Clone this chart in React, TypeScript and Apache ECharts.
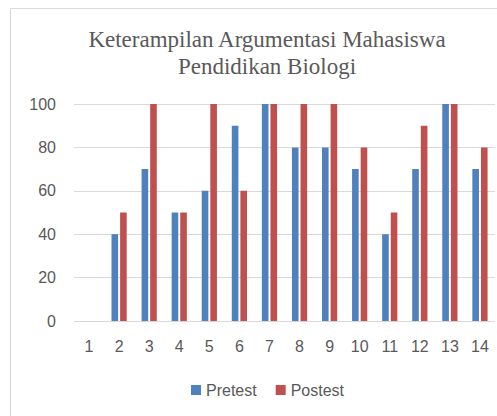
import React, { useEffect, useRef } from "react";
import * as echarts from "echarts";

const categories = ["1", "2", "3", "4", "5", "6", "7", "8", "9", "10", "11", "12", "13", "14"];
const pretest = [0, 40, 70, 50, 60, 90, 100, 80, 80, 70, 40, 70, 100, 70];
const postest = [0, 50, 100, 50, 100, 60, 100, 100, 100, 80, 50, 90, 100, 80];
const titleLines = ["Keterampilan Argumentasi Mahasiswa", "Pendidikan Biologi"];

export default function App() {
  const ref = useRef<HTMLDivElement>(null);
  useEffect(() => {
    document.body.style.margin = "0";
    const chart = echarts.init(ref.current!, null, { renderer: "svg" });
    const font = "'Liberation Sans', Arial, sans-serif";
    chart.setOption({
      animation: false,
      backgroundColor: "#ffffff",
      graphic: [
        {
          type: "rect",
          shape: { x: 10.5, y: 8.5, width: 600, height: 460 },
          style: { fill: "none", stroke: "#d9d9d9", lineWidth: 1 },
          silent: true,
        },
      ],
      title: {
        text: titleLines.join("\n"),
        left: 262,
        top: 21,
        textAlign: "center",
        textStyle: {
          fontFamily: "'Liberation Serif', 'Times New Roman', serif",
          fontSize: 23,
          fontWeight: "normal",
          color: "#595959",
          lineHeight: 27,
        },
      },
      legend: {
        data: ["Pretest", "Postest"],
        left: 186,
        top: 377,
        itemWidth: 10,
        itemHeight: 10,
        itemGap: 19,
        icon: "rect",
        textStyle: { fontFamily: font, fontSize: 16, color: "#595959" },
      },
      grid: { left: 74, right: 2, top: 104, bottom: 95, containLabel: false },
      xAxis: {
        type: "category",
        data: categories,
        axisLine: { show: false },
        axisTick: { show: false },
        axisLabel: { fontFamily: font, fontSize: 16, color: "#595959", margin: 17 },
      },
      yAxis: {
        type: "value",
        min: 0,
        max: 100,
        interval: 20,
        axisLine: { show: false },
        axisTick: { show: false },
        splitLine: { lineStyle: { color: "#d9d9d9", width: 1 } },
        axisLabel: { fontFamily: font, fontSize: 16, color: "#595959", margin: 18 },
      },
      series: [
        {
          name: "Pretest",
          type: "bar",
          data: pretest,
          barWidth: "22%",
          barGap: "30%",
          itemStyle: { color: "#4f81bd" },
        },
        {
          name: "Postest",
          type: "bar",
          data: postest,
          barWidth: "22%",
          itemStyle: { color: "#c0504d" },
        },
      ],
    });
    return () => chart.dispose();
  }, []);
  return <div ref={ref} style={{ width: 497, height: 416 }} />;
}
